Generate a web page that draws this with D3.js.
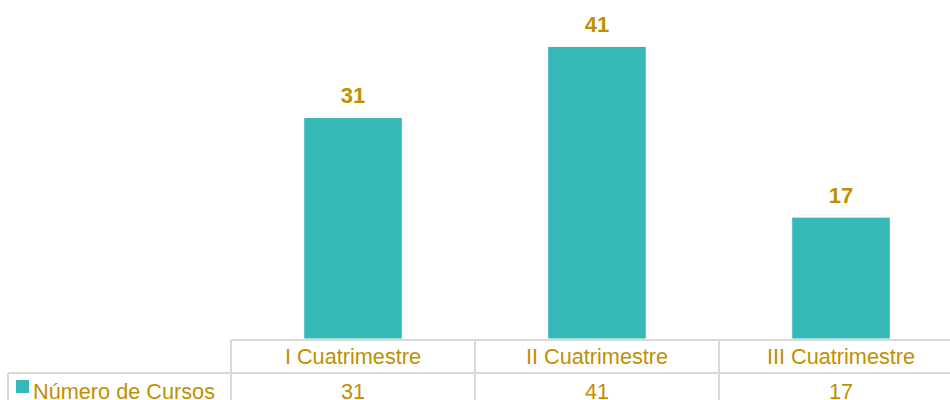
<!DOCTYPE html>
<html><head><meta charset="utf-8">
<script src="https://cdn.jsdelivr.net/npm/d3@7"></script>
<style>body{margin:0;background:#fff;overflow:hidden}svg{display:block}</style>
</head><body>
<script>
const categories = ["I Cuatrimestre", "II Cuatrimestre", "III Cuatrimestre"];
const values = [31, 41, 17];
const seriesName = "Número de Cursos";

const W = 950, H = 400;
const barColor = "#36B8B9", textColor = "#BF9000", gridColor = "#D9D9D9";
const font = "'Liberation Sans', Arial, sans-serif";

const svg = d3.select("body").append("svg").attr("width", W).attr("height", H);

const x = d3.scaleBand().domain(categories).range([231, 963]).paddingInner(0.6).paddingOuter(0.3);
const y = d3.scaleLinear().domain([0, 45]).range([338.5, 18.5]);

svg.selectAll("rect.bar").data(values).join("rect")
  .attr("class", "bar")
  .attr("x", (d, i) => x(categories[i]))
  .attr("width", x.bandwidth())
  .attr("y", d => y(d))
  .attr("height", d => y(0) - y(d))
  .attr("fill", barColor);

svg.selectAll("text.lbl").data(values).join("text")
  .attr("class", "lbl")
  .attr("x", (d, i) => x(categories[i]) + x.bandwidth() / 2)
  .attr("y", d => y(d) - 15)
  .attr("text-anchor", "middle")
  .attr("font-family", font).attr("font-weight", "bold").attr("font-size", 22)
  .attr("fill", textColor)
  .text(d => d);

// data table
const step = x.step();
const colX = categories.map(c => x(c) - x.paddingInner() * step / 2);
const g = svg.append("g").attr("stroke", gridColor).attr("stroke-width", 2).attr("fill", "none");
g.append("line").attr("x1", 231).attr("x2", W).attr("y1", 340).attr("y2", 340);
g.append("line").attr("x1", 8).attr("x2", W).attr("y1", 373).attr("y2", 373);
g.append("line").attr("x1", 8).attr("x2", 8).attr("y1", 373).attr("y2", H);
colX.forEach(cx => g.append("line").attr("x1", cx).attr("x2", cx).attr("y1", 340).attr("y2", H));
g.append("line").attr("x1", colX[2] + step).attr("x2", colX[2] + step).attr("y1", 340).attr("y2", H);

svg.selectAll("text.cat").data(categories).join("text")
  .attr("class", "cat")
  .attr("x", d => x(d) + x.bandwidth() / 2)
  .attr("y", 364)
  .attr("text-anchor", "middle")
  .attr("font-family", font).attr("font-size", 21.7)
  .attr("fill", textColor)
  .text(d => d);

svg.selectAll("text.val").data(values).join("text")
  .attr("class", "val")
  .attr("x", (d, i) => x(categories[i]) + x.bandwidth() / 2)
  .attr("y", 399)
  .attr("text-anchor", "middle")
  .attr("font-family", font).attr("font-size", 21.7)
  .attr("fill", textColor)
  .text(d => d);

svg.append("rect").attr("x", 16).attr("y", 380).attr("width", 13).attr("height", 13).attr("fill", barColor);
svg.append("text").attr("x", 33).attr("y", 399)
  .attr("font-family", font).attr("font-size", 21.7).attr("fill", textColor)
  .text(seriesName);
</script>
</body></html>
